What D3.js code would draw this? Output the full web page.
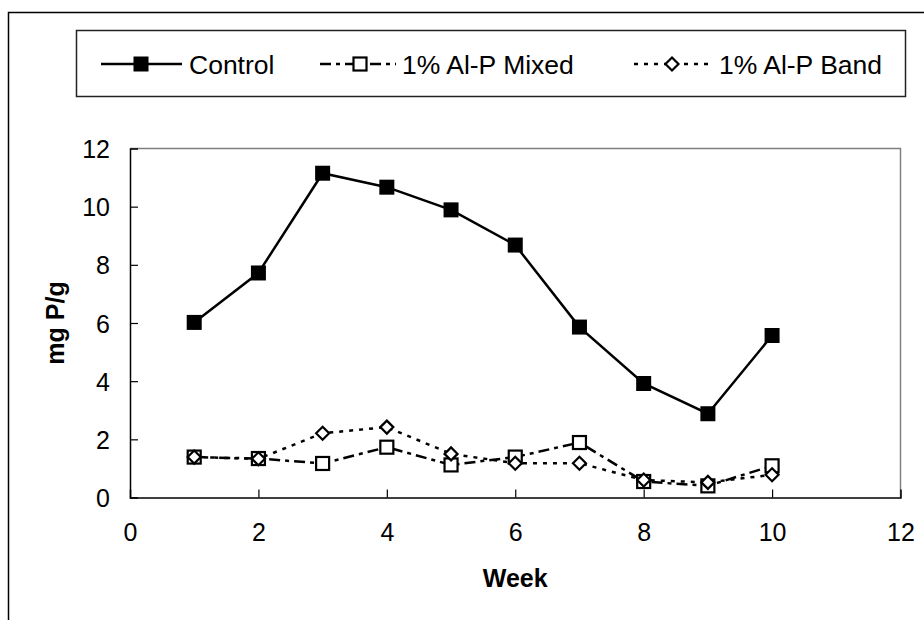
<!DOCTYPE html>
<html>
<head>
<meta charset="utf-8">
<script src="https://cdn.jsdelivr.net/npm/d3@7"></script>
<style>
  html, body { margin: 0; padding: 0; background: #fff; }
  svg { display: block; font-family: "Liberation Sans", Arial, sans-serif; }
</style>
</head>
<body>
<svg id="chart" width="924" height="620"></svg>
<script>
// Weekly phosphorus (mg P/g) under three treatments
const weeks = [1, 2, 3, 4, 5, 6, 7, 8, 9, 10];
const control = [6.02, 7.72, 11.15, 10.67, 9.89, 8.68, 5.86, 3.92, 2.88, 5.57];
const mixed   = [1.39, 1.34, 1.17, 1.73, 1.12, 1.39, 1.89, 0.55, 0.40, 1.09];
const band    = [1.39, 1.33, 2.21, 2.42, 1.50, 1.18, 1.18, 0.60, 0.52, 0.78];
const seriesNames = ["Control", "1% Al-P Mixed", "1% Al-P Band"];
const xTicks = [0, 2, 4, 6, 8, 10, 12];
const yTicks = [0, 2, 4, 6, 8, 10, 12];

const svg = d3.select("#chart");

// outer chart frame (runs off the right and bottom edges)
svg.append("rect")
  .attr("x", 8.5).attr("y", 12.5)
  .attr("width", 940).attr("height", 640)
  .attr("fill", "none").attr("stroke", "#000").attr("stroke-width", 1.5);

const plot = { left: 130, right: 900.5, top: 148.5, bottom: 497.5 };
const x = d3.scaleLinear().domain([0, 12]).range([plot.left, plot.right]);
const y = d3.scaleLinear().domain([0, 12]).range([plot.bottom, plot.top]);

// plot frame: top and right edges in grey
svg.append("path")
  .attr("d", `M${plot.left},${plot.top}H${plot.right}V${plot.bottom}`)
  .attr("fill", "none").attr("stroke", "#808080").attr("stroke-width", 1.5);

// axes, ticks pointing into the plot
const yAxis = svg.append("g")
  .attr("transform", `translate(${plot.left},0)`)
  .call(d3.axisLeft(y).tickValues(yTicks).tickSize(-8).tickPadding(0).tickFormat(d3.format("d")));
yAxis.selectAll("text")
  .attr("x", -20).attr("dy", "0.36em")
  .style("font-size", "25px").attr("fill", "#000");

const xAxis = svg.append("g")
  .attr("transform", `translate(0,${plot.bottom})`)
  .call(d3.axisBottom(x).tickValues(xTicks).tickSize(-8).tickPadding(0).tickFormat(d3.format("d")));
xAxis.selectAll("text")
  .attr("y", 34).attr("dy", "0.36em")
  .style("font-size", "25px").attr("fill", "#000");

[yAxis, xAxis].forEach(g => {
  g.select(".domain").attr("stroke", "#000").attr("stroke-width", 1.5);
  g.selectAll(".tick line").attr("stroke", "#000").attr("stroke-width", 1.2);
  g.selectAll(".tick").filter(d => d === 0 || d === 12).select("line").remove();
});

// axis titles
svg.append("text")
  .attr("x", x(6)).attr("y", 578).attr("dy", "0.36em")
  .attr("text-anchor", "middle")
  .style("font-size", "25px").style("font-weight", "bold")
  .text("Week");
svg.append("text")
  .attr("transform", `translate(55,${y(6)}) rotate(-90)`)
  .attr("dy", "0.36em")
  .attr("text-anchor", "middle")
  .style("font-size", "25px").style("font-weight", "bold")
  .text("mg P/g");

// series definitions
const series = [
  { name: seriesNames[0], values: control, dash: null, marker: "filled" },
  { name: seriesNames[1], values: mixed, dash: "11,5,4,5", marker: "square" },
  { name: seriesNames[2], values: band, dash: "4,6", marker: "diamond" }
];

const line = d3.line().x(d => x(d[0])).y(d => y(d[1]));

function drawMarker(g, kind, cx, cy) {
  if (kind === "filled") {
    g.append("rect").attr("x", cx - 7.5).attr("y", cy - 7.5)
      .attr("width", 15).attr("height", 15).attr("fill", "#000");
  } else if (kind === "square") {
    g.append("rect").attr("x", cx - 6.5).attr("y", cy - 6.5)
      .attr("width", 13).attr("height", 13)
      .attr("fill", "#fff").attr("stroke", "#000").attr("stroke-width", 2.2);
  } else {
    const r = 6.5;
    g.append("path")
      .attr("d", `M${cx},${cy - r}L${cx + r},${cy}L${cx},${cy + r}L${cx - r},${cy}Z`)
      .attr("fill", "#fff").attr("stroke", "#000").attr("stroke-width", 2.2);
  }
}

series.forEach(s => {
  const pts = weeks.map((w, i) => [w, s.values[i]]);
  const g = svg.append("g");
  g.append("path")
    .attr("d", line(pts))
    .attr("fill", "none").attr("stroke", "#000")
    .attr("stroke-width", 2.5)
    .attr("stroke-dasharray", s.dash);
  pts.forEach(p => drawMarker(g, s.marker, x(p[0]), y(p[1])));
});

// legend
svg.append("rect")
  .attr("x", 76.5).attr("y", 30.5).attr("width", 829).attr("height", 66)
  .attr("fill", "#fff").attr("stroke", "#222").attr("stroke-width", 1.5);

const legendY = 64;
const legendItems = [
  { x0: 101, x1: 182, mx: 141, tx: 189 },
  { x0: 320, x1: 396, mx: 360, tx: 402 },
  { x0: 634, x1: 712, mx: 672, tx: 719 }
];
series.forEach((s, i) => {
  const it = legendItems[i];
  const g = svg.append("g");
  g.append("line")
    .attr("x1", it.x0).attr("x2", it.x1)
    .attr("y1", legendY).attr("y2", legendY)
    .attr("stroke", "#000").attr("stroke-width", 2.5)
    .attr("stroke-dasharray", s.dash);
  drawMarker(g, s.marker, it.mx, legendY);
  g.append("text")
    .attr("x", it.tx).attr("y", legendY).attr("dy", "0.36em")
    .style("font-size", "26.5px")
    .text(s.name);
});
</script>
</body>
</html>
